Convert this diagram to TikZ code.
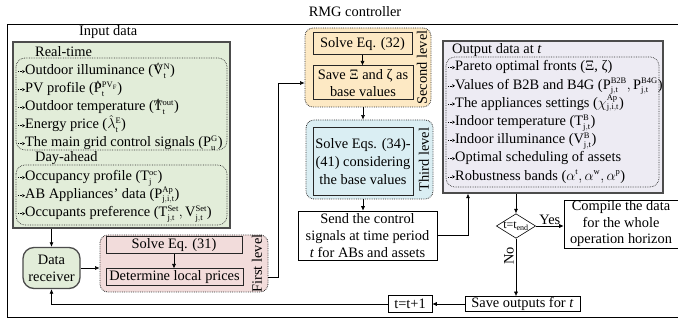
\documentclass[tikz,border=0pt]{standalone}
\usepackage{fontspec}
\setmainfont{Liberation Serif}
\usetikzlibrary{arrows.meta, shapes.geometric}
\DeclareMathSizes{14.4}{14.4}{8.5}{6.5}

\definecolor{ingreen}{HTML}{E2EDD9}
\definecolor{lvlpink}{HTML}{F2DCDB}
\definecolor{lvlorange}{HTML}{FDE9C4}
\definecolor{lvlblue}{HTML}{DAEEF3}
\definecolor{outgray}{HTML}{EDEBF3}

\newcommand{\dfont}{\fontsize{14.4pt}{17pt}\selectfont}
% small dotted arrow in front of each list entry
\newcommand{\bul}{\tikz[baseline=-3.4pt]\draw[densely dotted,line width=0.5pt,-{Stealth[length=2.8pt,width=3.2pt]}] (0pt,0pt) -- (6.5pt,0pt);}

\tikzset{
  arr/.style={-{Latex[length=4.5pt,width=4pt]}, line width=0.6pt},
  heavybox/.style={draw=black!70, line width=1.3pt},
  lvlbox/.style={draw=black!80, densely dotted, line width=0.8pt, rounded corners=8pt},
  listbox/.style={draw=black!80, densely dotted, line width=0.7pt, rounded corners=9pt},
  stepbox/.style={draw=black!85, line width=1pt, inner sep=0pt, align=center},
  plainbox/.style={draw, line width=0.6pt, inner sep=0pt, align=center},
  item/.style={anchor=base west, inner sep=0pt, text height=10pt, text depth=3pt},
  lvltxt/.style={rotate=90, inner sep=0pt},
}

\begin{document}
\begin{tikzpicture}[x=1pt, y=-1pt, font=\dfont]
\useasboundingbox (0,0) rectangle (678,320);
% controller frame
\node (rmg) at (355,12) {RMG controller};
\draw[line width=0.8pt] (680,24) -- (7,24) -- (7,317) -- (680,317);

% Input data
\node[anchor=west, inner sep=0pt] (inlbl) at (79,32) {Input data};
\node[heavybox, fill=ingreen, minimum width=217pt, minimum height=186pt] (input) at (121.5,135) {};
\node[anchor=west, inner sep=0pt] (rtlbl) at (35,52) {Real-time};
\draw[listbox] (16,58) rectangle (227,150);
\foreach \itm [count=\k from 0] in {
  {Outdoor illuminance ($\mathrm{\hat{V}_t^N}$)},
  {PV profile ($\mathrm{\hat{P}_t^{PV_F}}$)},
  {Outdoor temperature ($\mathrm{\hat{T}_t^{out}}$)},
  {Energy price ($\hat{\lambda}_{\mathrm t}^{\mathrm E}$)},
  {The main grid control signals ($\mathrm{P_u^G}$)}}
  \node[item] (rt\k) at (18,{75+18*\k}) {\bul\itm};
\node[anchor=west, inner sep=0pt] (dalbl) at (35,158) {Day-ahead};
\draw[listbox] (16,165) rectangle (227,225);
\foreach \itm [count=\k from 0] in {
  {Occupancy profile ($\mathrm{T_j^{oc}}$)},
  {AB Appliances' data ($\mathrm{P_{j,i,t}^{Ap}}$)},
  {Occupants preference ($\mathrm{T_{j,t}^{Set}},\mathrm{V_{j,t}^{Set}}$)}}
  \node[item] (da\k) at (18,{181+18*\k}) {\bul\itm};

\node[heavybox, fill=ingreen, rounded corners=11pt, minimum width=57pt, minimum height=41pt, align=center, inner sep=0pt] (recv) at (51.5,268) {Data\\receiver};

% First level
\node[lvlbox, fill=lvlpink, minimum width=168pt, minimum height=57pt] (first) at (184,263.5) {};
\node[stepbox, fill=lvlpink, minimum width=136pt, minimum height=17pt] (s31) at (174,245.5) {Solve Eq. (31)};
\node[stepbox, fill=lvlpink, minimum width=137pt, minimum height=17pt] (det) at (174.5,277.5) {Determine local prices};
\node[lvltxt] (firstlbl) at (257,263.5) {First level};

% Second level
\node[lvlbox, fill=lvlorange, minimum width=126pt, minimum height=79pt] (second) at (368,67.5) {};
\node[stepbox, fill=lvlorange, minimum width=99pt, minimum height=22pt] (s32) at (362.5,44) {Solve Eq. (32)};
\node[stepbox, fill=lvlorange, minimum width=100pt, minimum height=34pt] (save) at (363,83) {Save Ξ and ζ as\\base values};
\node[lvltxt] (secondlbl) at (422,67.5) {Second level};

% Third level
\node[lvlbox, fill=lvlblue, minimum width=127pt, minimum height=79pt] (third) at (369.5,159.5) {};
\node[stepbox, fill=lvlblue, minimum width=100pt, minimum height=68pt, font=\fontsize{14.4pt}{18pt}\selectfont] (s34) at (363,162) {Solve Eqs. (34)-\\(41) considering\\the base values};
\node[lvltxt] (thirdlbl) at (424,159.5) {Third level};

\node[plainbox, minimum width=139pt, minimum height=49pt] (send) at (367.5,235.5) {Send the control\\signals at time period\\\textit{t} for ABs and assets};

% Output data
\node[heavybox, fill=outgray, minimum width=220pt, minimum height=152pt] (out) at (553,117) {};
\node[anchor=west, inner sep=0pt] (outlbl) at (452,50) {Output data at \textit{t}};
\draw[listbox] (446,57) rectangle (659,187);
\foreach \itm [count=\k from 0] in {
  {Pareto optimal fronts (Ξ, ζ)},
  {Values of B2B and B4G ($\mathrm{P_{j,t}^{B2B}},\mathrm{P_{j,t}^{B4G}}$)},
  {The appliances settings ($\chi_{\mathrm{j,i,t}}^{\mathrm{Ap}}$)},
  {Indoor temperature ($\mathrm{T_{j,t}^B}$)},
  {Indoor illuminance ($\mathrm{V_{j,t}^B}$)},
  {Optimal scheduling of assets},
  {Robustness bands ($\alpha^{\mathrm t},\alpha^{\mathrm w},\alpha^{\mathrm p}$)}}
  \node[item] (od\k) at (448,{71+18.2*\k}) {\bul\itm};

\node[draw, diamond, aspect=1.6, inner sep=0pt, line width=0.6pt, font=\fontsize{12pt}{12pt}\selectfont] (dia) at (516,226) {t=t$_{\mathrm{end}}$};
\node[plainbox, minimum width=114pt, minimum height=48pt, font=\fontsize{14.4pt}{16.5pt}\selectfont] (comp) at (621,224) {Compile the data\\for the whole\\operation horizon};
\node[plainbox, minimum width=115pt, minimum height=15pt] (saveout) at (522.5,304) {Save outputs for \textit{t}};
\node[plainbox, minimum width=44pt, minimum height=17pt] (tinc) at (410,304) {t=t+1};
\coordinate (sendup) at (468,0);

% connectors
\draw[arr] (input.south -| recv) -- (recv.north);
\draw[arr] (recv.east) -- (recv.east -| first.west);
\draw[arr] (s31.south) -- (s31.south |- det.north);
\draw[arr] (first.east |- det) -- ++(10,0) |- (second.west |- save);
\draw[arr] (s32.south) -- (s32.south |- save.north);
\draw[arr] (second.south -| save) -- (third.north -| save);
\draw[arr] (third.south -| s34) -- (send.north -| s34);
\draw[arr] (send.east) -| (sendup |- out.south);
\draw[arr] (out.south -| dia) -- (dia.north);
\draw[arr] (dia.east) -- node[above, inner sep=1.5pt] {Yes} (dia.east -| comp.west);
\draw[arr] (dia.south) -- node[pos=0.3, anchor=south, rotate=90, inner sep=2pt] {No} (dia.south |- saveout.north);
\draw[arr] (saveout.west) -- (tinc.east);
\draw[arr] (tinc.west) -| (recv.south);
\end{tikzpicture}
\end{document}
